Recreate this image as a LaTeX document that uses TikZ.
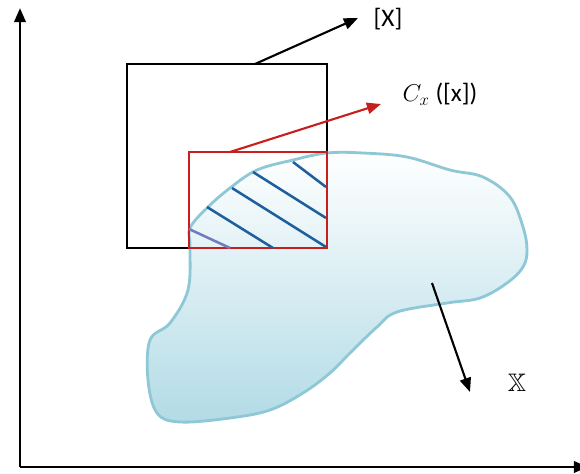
\documentclass[tikz,border=0pt]{standalone}
\usepackage{amsmath, amssymb}
\usepackage{fontspec}
\setmainfont{Carlito}
\usetikzlibrary{arrows.meta}
\definecolor{blobedge}{RGB}{142,200,214}
\definecolor{blobfill}{RGB}{178,219,230}
\definecolor{hatch}{RGB}{30,96,158}
\definecolor{hatchlight}{RGB}{110,125,190}
\definecolor{boxred}{RGB}{200,30,30}

\begin{document}
\begin{tikzpicture}[
    x=0.025cm, y=-0.025cm,
    >={Triangle[length=10pt, width=8pt]},
    font=\fontsize{18}{22}\selectfont,
    axis/.style={line width=2pt, ->},
    hatchline/.style={line width=1.8pt, hatch},
    every node/.style={align=center}
]
\useasboundingbox (0,0) rectangle (580,474);

% Axes
\coordinate (origin) at (20,467);
\coordinate (ytop) at (20,8);
\coordinate (xend) at (588,467);
\draw[axis] (origin) -- (ytop);
\draw[axis] (origin) -- (xend);

% Set X
\path[draw=blobedge, line width=2pt, top color=white, bottom color=blobfill]
    plot[smooth cycle, tension=0.6] coordinates {
    (190,228) (207,208) (230,188) (257,170) (293,160) (327,153)
    (363,153) (407,157) (450,170) (483,177) (510,197) (523,227)
    (527,250) (523,267) (507,283) (480,298) (447,303) (397,312)
    (377,327) (350,353) (330,373) (303,393) (270,410) (230,418)
    (180,422) (157,413) (148,380) (150,340) (170,323) (188,290)
    (190,247)};

% Boxes
\draw[line width=1.8pt] (127,64) rectangle (327,248);
\draw[boxred, line width=1.4pt] (189,152) rectangle (327,248);

% Hatching
\draw[hatchline] (293,162) -- (326,187);
\draw[hatchline] (253,172) -- (326,218);
\draw[hatchline] (232,188) -- (326,247);
\draw[hatchline] (207,207) -- (273,248);
\draw[hatchline, hatchlight] (189,229) -- (230,248);

% Labels
\node (boxlabel) at (388,19) {[X]};
\node (cxlabel) at (440,94) {$C_x$ ([x])};
\node (setlabel) at (517,383) {$\mathbb{X}$};

% Pointers
\coordinate (boxtop) at (255,64);
\coordinate (boxtip) at (358,18);
\coordinate (redtop) at (230,152);
\coordinate (redtip) at (381,104);
\coordinate (setin) at (432,283);
\coordinate (settip) at (470,392);
\draw[->, line width=1.5pt] (boxtop) -- (boxtip);
\draw[->, line width=1.5pt, boxred] (redtop) -- (redtip);
\draw[->, line width=1.5pt] (setin) -- (settip);

\end{tikzpicture}
\end{document}
